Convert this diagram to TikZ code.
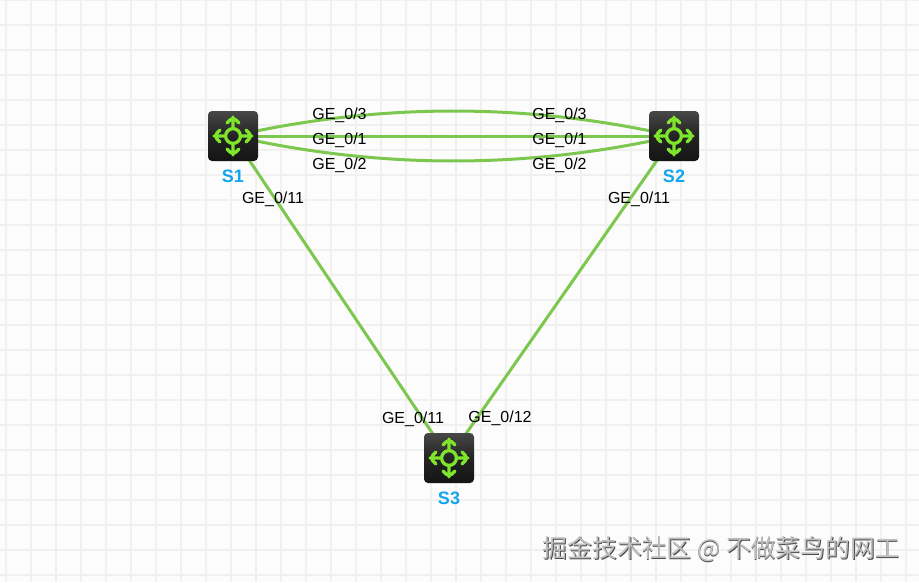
\documentclass[tikz,border=0pt]{standalone}
\usepackage{fontspec}
\setmainfont{Liberation Sans}
\newfontfamily\cjkfont{Noto Sans CJK SC}
\pgfdeclarelayer{gridlayer}
\pgfdeclarelayer{linklayer}
\pgfsetlayers{gridlayer,linklayer,main}
\definecolor{linkgreen}{HTML}{7CC84E}
\definecolor{icongreen}{HTML}{7FE52B}
\definecolor{namecyan}{HTML}{12A5EE}
\definecolor{gridgray}{HTML}{F0F0F0}
\tikzset{
  x=1pt,y=-1pt,
  switchbox/.style={
    minimum width=50pt,minimum height=50pt,inner sep=0pt,rounded corners=4pt,
    top color=black!72,bottom color=black!92,middle color=black!86,
    path picture={
      \begin{scope}[shift={(path picture bounding box.center)}]
        \draw[icongreen,line width=3.3pt,line cap=round,line join=round]
          (0,0) circle (7.4)
          (8,0) -- (19,0) (13,-6) -- (19,0) -- (13,6)
          (-8,0) -- (-19,0) (-13,-6) -- (-19,0) -- (-13,6)
          (0,8) -- (0,19) (-6,13) -- (0,19) -- (6,13)
          (0,-8) -- (0,-19) (-6,-13) -- (0,-19) -- (6,-13);
      \end{scope}
    }},
  link/.style={draw=linkgreen,line width=3pt},
  portlabel/.style={inner sep=0pt,font=\fontsize{16}{16}\selectfont,text=black},
  namelabel/.style={inner sep=0pt,font=\fontsize{18}{18}\selectfont\bfseries,text=namecyan},
  watermark/.style={inner sep=0pt,font=\cjkfont\fontsize{24.8}{25}\selectfont}
}
\begin{document}
\begin{tikzpicture}
\useasboundingbox (0,0) rectangle (919,582);
\begin{pgfonlayer}{gridlayer}
  \fill[white!99!black] (0,0) rectangle (919,582);
  \foreach \gx in {6,31,...,906}{\draw[gridgray,line width=1.6pt] (\gx,0) -- (\gx,582);}
  \foreach \gy in {0,25,...,575}{\draw[gridgray,line width=1.6pt] (0,\gy) -- (919,\gy);}
\end{pgfonlayer}

\node[switchbox] (S1) at (233,136) {};
\node[switchbox] (S2) at (674,136) {};
\node[switchbox] (S3) at (449,458) {};

\begin{pgfonlayer}{linklayer}
  \draw[link] (S1.center) .. controls +(147,-33.3) and +(-147,-33.3) .. (S2.center);
  \draw[link] (S1.center) -- (S2.center);
  \draw[link] (S1.center) .. controls +(147,33.3) and +(-147,33.3) .. (S2.center);
  \draw[link] (S1.center) -- (S3.center);
  \draw[link] (S2.center) -- (S3.center);
\end{pgfonlayer}

\node[namelabel] (n1) at (233,176.5) {S1};
\node[namelabel] (n2) at (674,176.5) {S2};
\node[namelabel] (n3) at (449,498) {S3};

\node[portlabel] (a3) at (339.5,115.5) {GE\_0/3};
\node[portlabel] (a1) at (339.5,140.5) {GE\_0/1};
\node[portlabel] (a2) at (339.5,165.5) {GE\_0/2};
\node[portlabel] (b3) at (559.5,115.5) {GE\_0/3};
\node[portlabel] (b1) at (559.5,140.5) {GE\_0/1};
\node[portlabel] (b2) at (559.5,165.5) {GE\_0/2};
\node[portlabel] (c1) at (273,199.5) {GE\_0/11};
\node[portlabel] (c2) at (639,199.5) {GE\_0/11};
\node[portlabel] (c3) at (413,419.5) {GE\_0/11};
\node[portlabel] (c4) at (500,418.5) {GE\_0/12};

\node[watermark,anchor=east] (wm) at (900,550) {\rlap{\raisebox{-0.8pt}{\kern0.8pt\textcolor{black!70}{掘金技术社区 @ 不做菜鸟的网工}}}\textcolor{black!25}{掘金技术社区 @ 不做菜鸟的网工}};
\end{tikzpicture}
\end{document}
